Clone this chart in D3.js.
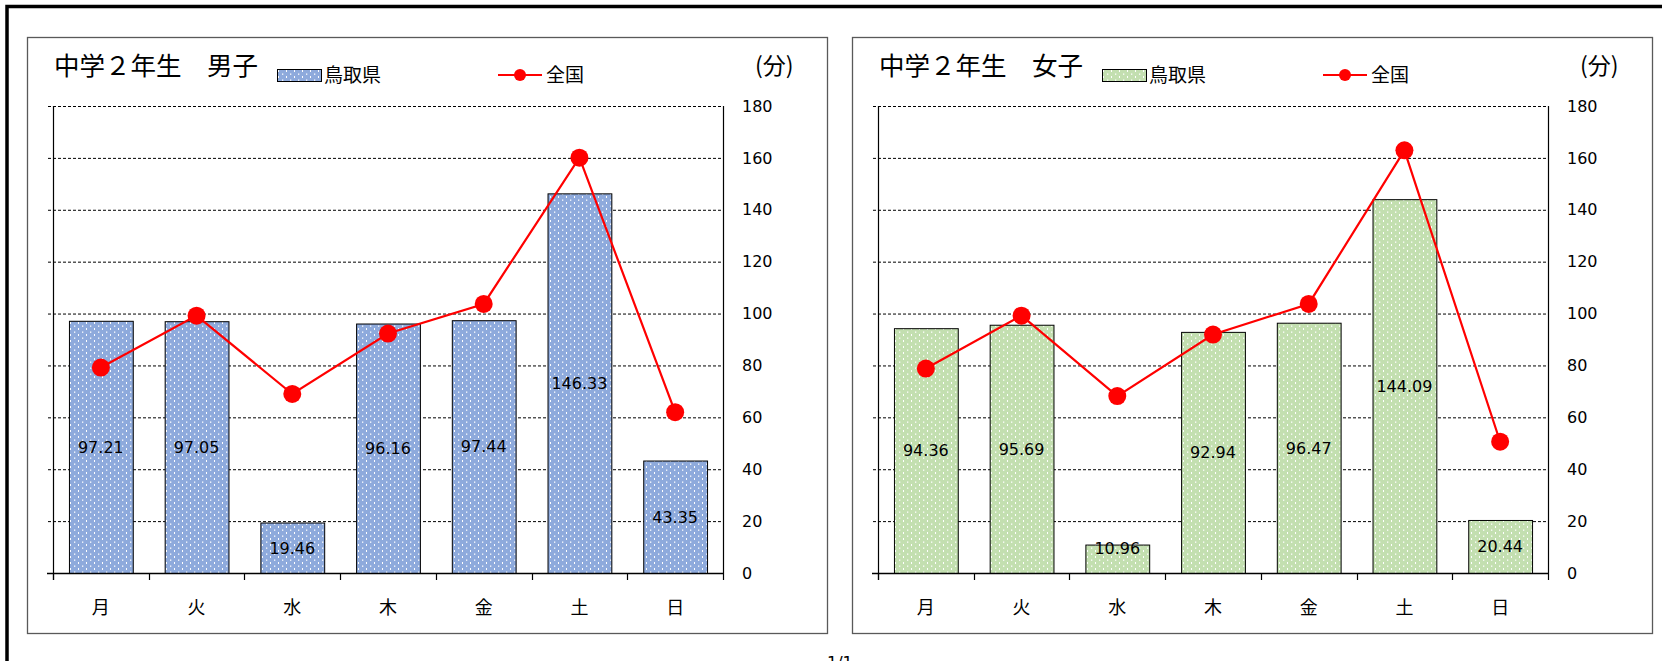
<!DOCTYPE html>
<html lang="ja">
<head>
<meta charset="utf-8">
<script src="https://cdn.jsdelivr.net/npm/d3@7"></script>
<style>
  html, body { margin: 0; padding: 0; background: #fff; overflow: hidden; }
  svg { display: block; }
  .jp { font-family: "Noto Sans CJK JP", "Noto Sans", sans-serif; }
  .num { font-family: "DejaVu Sans", Verdana, sans-serif; }
</style>
</head>
<body>
<svg id="chart" width="1662" height="661"></svg>
<script>
// Weekly minutes by day: Tottori prefecture (bars) vs national average (line)
const days = ["月", "火", "水", "木", "金", "土", "日"];
const boysTottori   = [97.21, 97.05, 19.46, 96.16, 97.44, 146.33, 43.35];
const boysNational  = [79.2, 99.2, 69.0, 92.3, 103.7, 160.1, 62.0];
const girlsTottori  = [94.36, 95.69, 10.96, 92.94, 96.47, 144.09, 20.44];
const girlsNational = [78.8, 99.2, 68.2, 91.9, 103.7, 162.9, 50.6];
const yTicks = [0, 20, 40, 60, 80, 100, 120, 140, 160, 180];
const panelTitles = ["中学２年生　男子", "中学２年生　女子"];
const legendBar = "鳥取県";
const legendLine = "全国";
const unitLabel = "(分)";

const svg = d3.select("#chart");
const defs = svg.append("defs");

// dotted fill used by the bars
function makePattern(id, color) {
  const p = defs.append("pattern")
    .attr("id", id)
    .attr("patternUnits", "userSpaceOnUse")
    .attr("width", 8).attr("height", 12);
  p.append("rect").attr("width", 8).attr("height", 12).attr("fill", color);
  const dots = [[2, 1.5, 1.3, 1.3], [6, 4, 1, 2], [2, 7.5, 1.3, 1.3], [6, 10, 1, 2]];
  dots.forEach(d => p.append("rect")
    .attr("x", d[0]).attr("y", d[1]).attr("width", d[2]).attr("height", d[3])
    .attr("fill", "#fff"));
}
makePattern("dotBlue", "#8eaadc");
makePattern("dotGreen", "#c3dfb0");

// page frame
svg.append("rect")
  .attr("x", 7).attr("y", 6.5).attr("width", 1720).attr("height", 720)
  .attr("fill", "none").attr("stroke", "#000").attr("stroke-width", 3.5);

// page number
svg.append("text").attr("class", "num")
  .attr("x", 827).attr("y", 668)
  .attr("font-size", 16).attr("fill", "#000")
  .text("1/1");

function drawPanel(offsetX, title, barValues, lineValues, patternId) {
  const g = svg.append("g").attr("transform", `translate(${offsetX},0)`);

  // panel border
  g.append("rect")
    .attr("x", 27.5).attr("y", 37.5).attr("width", 800).attr("height", 596)
    .attr("fill", "#fff").attr("stroke", "#595959").attr("stroke-width", 1.3);

  const left = 53, right = 723, top = 106, bottom = 573;

  const x = d3.scaleBand().domain(days).range([left, right])
    .paddingInner(1 / 3).paddingOuter(1 / 6);
  const y = d3.scaleLinear().domain([0, 180]).range([bottom, top]);

  // dashed gridlines, starting at the short outer ticks
  const grid = g.append("g")
    .attr("transform", `translate(${left - 5},0)`)
    .call(d3.axisLeft(y).tickValues(yTicks.filter(v => v > 0))
      .tickSize(-(right - left + 5)).tickFormat(""));
  grid.select(".domain").remove();
  grid.selectAll(".tick line")
    .attr("stroke", "#000").attr("stroke-width", 1)
    .attr("stroke-dasharray", "3,2");

  // right-hand value labels
  const yr = g.append("g")
    .attr("transform", `translate(${right},0)`)
    .call(d3.axisRight(y).tickValues(yTicks).tickSize(0).tickPadding(19));
  yr.select(".domain").remove();
  yr.selectAll("text")
    .attr("class", "num").attr("font-size", 16).attr("fill", "#000");

  // bars
  g.append("g").selectAll("rect")
    .data(barValues)
    .join("rect")
    .attr("x", (d, i) => x(days[i]) + 0.5)
    .attr("y", d => y(d) + 0.5)
    .attr("width", x.bandwidth())
    .attr("height", d => y(0) - y(d))
    .attr("fill", `url(#${patternId})`)
    .attr("stroke", "#000").attr("stroke-width", 1);

  // plot frame: left axis line, right edge, baseline
  g.append("line").attr("x1", left + 0.5).attr("x2", left + 0.5)
    .attr("y1", top).attr("y2", bottom + 7)
    .attr("stroke", "#000").attr("stroke-width", 1.2);
  g.append("line").attr("x1", right + 0.5).attr("x2", right + 0.5)
    .attr("y1", top).attr("y2", bottom)
    .attr("stroke", "#000").attr("stroke-width", 1.2);

  const xa = g.append("g")
    .attr("transform", `translate(0,${bottom})`)
    .call(d3.axisBottom(x).tickSize(0).tickPadding(28));
  xa.select(".domain").remove();
  xa.selectAll("text")
    .attr("class", "jp").attr("font-size", 18).attr("fill", "#000");

  g.append("line").attr("x1", left - 6).attr("x2", right)
    .attr("y1", bottom + 0.5).attr("y2", bottom + 0.5)
    .attr("stroke", "#000").attr("stroke-width", 1.4);

  // category boundary ticks
  const gap = x.step() - x.bandwidth();
  const bounds = days.map(d => x(d) - gap / 2).concat([right]);
  g.append("g").selectAll("line")
    .data(bounds)
    .join("line")
    .attr("x1", d => Math.round(d) + 0.5).attr("x2", d => Math.round(d) + 0.5)
    .attr("y1", bottom).attr("y2", bottom + 7)
    .attr("stroke", "#000").attr("stroke-width", 1.2);

  // national average line with markers
  const cx = (d, i) => x(days[i]) + x.bandwidth() / 2;
  g.append("path")
    .datum(lineValues)
    .attr("fill", "none").attr("stroke", "#ff0000").attr("stroke-width", 2.2)
    .attr("d", d3.line().x(cx).y(d => y(d)));
  g.append("g").selectAll("circle")
    .data(lineValues)
    .join("circle")
    .attr("cx", cx).attr("cy", d => y(d)).attr("r", 9)
    .attr("fill", "#ff0000");

  // data labels centred in each bar, kept clear of the baseline
  g.append("g").selectAll("text")
    .data(barValues)
    .join("text")
    .attr("class", "num")
    .attr("x", cx)
    .attr("y", d => Math.min((y(d) + y(0)) / 2, y(0) - 25))
    .attr("dy", "0.36em")
    .attr("text-anchor", "middle")
    .attr("font-size", 16).attr("fill", "#000")
    .text(d => d.toFixed(2));

  // title
  g.append("text").attr("class", "jp")
    .attr("x", 54).attr("y", 75)
    .attr("font-size", 25.5).attr("fill", "#000")
    .text(title);

  // legend: bar swatch
  g.append("rect")
    .attr("x", 277.5).attr("y", 69.5).attr("width", 44).attr("height", 12)
    .attr("fill", `url(#${patternId})`).attr("stroke", "#000").attr("stroke-width", 1);
  g.append("text").attr("class", "jp")
    .attr("x", 324).attr("y", 82)
    .attr("font-size", 19).attr("fill", "#000")
    .text(legendBar);

  // legend: line swatch
  g.append("line").attr("x1", 498).attr("x2", 542).attr("y1", 75).attr("y2", 75)
    .attr("stroke", "#ff0000").attr("stroke-width", 2.2);
  g.append("circle").attr("cx", 520).attr("cy", 75).attr("r", 6).attr("fill", "#ff0000");
  g.append("text").attr("class", "jp")
    .attr("x", 546).attr("y", 82)
    .attr("font-size", 19).attr("fill", "#000")
    .text(legendLine);

  // unit
  g.append("text").attr("class", "jp")
    .attr("x", 755).attr("y", 74)
    .attr("font-size", 23).attr("fill", "#000")
    .text(unitLabel);
}

drawPanel(0, panelTitles[0], boysTottori, boysNational, "dotBlue");
drawPanel(825, panelTitles[1], girlsTottori, girlsNational, "dotGreen");
</script>
</body>
</html>
